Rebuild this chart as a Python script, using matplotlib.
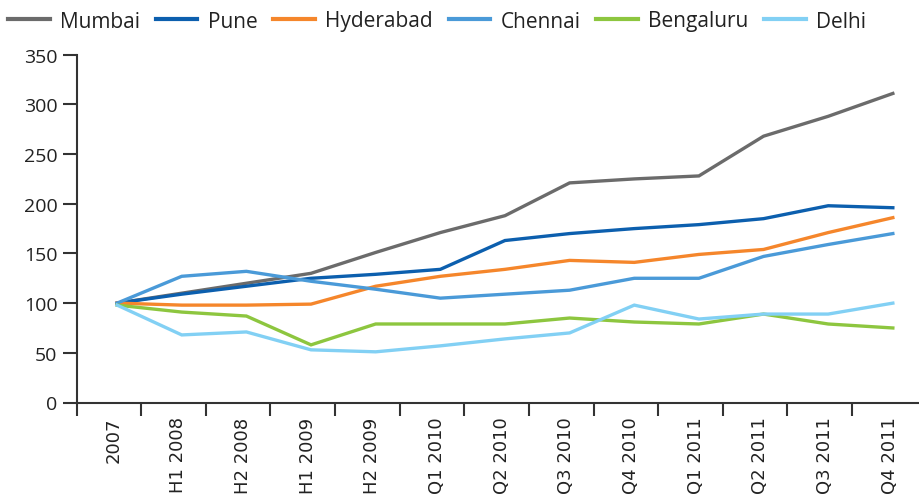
import numpy as np
import matplotlib
matplotlib.use('Agg')
import matplotlib.pyplot as plt

# categories on the x axis
periods = ['2007', 'H1 2008', 'H2 2008', 'H1 2009', 'H2 2009', 'Q1 2010',
           'Q2 2010', 'Q3 2010', 'Q4 2010', 'Q1 2011', 'Q2 2011', 'Q3 2011',
           'Q4 2011']

# index values (2007 = 100)
mumbai = [100, 110, 120, 130, 151, 171, 188, 221, 225, 228, 268, 288, 311]
pune = [100, 109, 117, 125, 129, 134, 163, 170, 175, 179, 185, 198, 196]
hyderabad = [100, 98, 98, 99, 117, 127, 134, 143, 141, 149, 154, 171, 186]
chennai = [100, 127, 132, 122, 114, 105, 109, 113, 125, 125, 147, 159, 170]
bengaluru = [98, 91, 87, 58, 79, 79, 79, 85, 81, 79, 89, 79, 75]
delhi = [98, 68, 71, 53, 51, 57, 64, 70, 98, 84, 89, 89, 100]

cities = ['Mumbai', 'Pune', 'Hyderabad', 'Chennai', 'Bengaluru', 'Delhi']
series = [mumbai, pune, hyderabad, chennai, bengaluru, delhi]
colors = ['#6b6b6b', '#0c5fae', '#f5862b', '#4a9ad8', '#8dc63f', '#82d0f4']

fig = plt.figure(figsize=(9.2, 5.02), dpi=100)
ax = fig.add_axes([77 / 920, 1 - 403.5 / 502, 843 / 920, 347.8 / 502])

x = np.arange(len(periods))
handles = []
for name, vals, col in zip(cities, series, colors):
    ln, = ax.plot(x, vals, color=col, lw=2.4, label=name,
                  solid_joinstyle='miter')
    handles.append(ln)

ax.set_xlim(-0.62, 12.42)
ax.set_ylim(0, 350)
ax.set_yticks(np.arange(0, 351, 50))

# boundary ticks between categories, labels on the points
ax.set_xticks(np.concatenate([[-0.62], np.arange(12) + 0.37]))
ax.set_xticklabels([])
ax.set_xticks(x - 0.05, minor=True)
ax.set_xticklabels(periods, minor=True, rotation=90,
                   fontsize=13, family='DejaVu Sans', color='#222222')
ax.tick_params(axis='x', which='minor', length=0, pad=10)
ax.tick_params(axis='x', which='major', length=9.5, width=1.5,
               color='#333333', direction='out')
ax.tick_params(axis='y', length=10, width=1.5, color='#333333', pad=4)
for lab in ax.get_yticklabels():
    lab.set_family('Open Sans')
    lab.set_fontsize(14)
    lab.set_color('#222222')

for s in ['top', 'right']:
    ax.spines[s].set_visible(False)
for s in ['left', 'bottom']:
    ax.spines[s].set_linewidth(1.5)
    ax.spines[s].set_color('#333333')

leg = fig.legend(handles=handles, loc='center left',
                 bbox_to_anchor=(8 / 920, 1 - 22 / 502), ncol=6,
                 frameon=False, borderaxespad=0, borderpad=0,
                 handlelength=2.0, handletextpad=0.5, columnspacing=0.75,
                 prop={'family': 'Open Sans', 'size': 15})
for ln in leg.get_lines():
    ln.set_linewidth(3)
for t in leg.get_texts():
    t.set_color('#222222')

fig.savefig('out.png', dpi=100)
